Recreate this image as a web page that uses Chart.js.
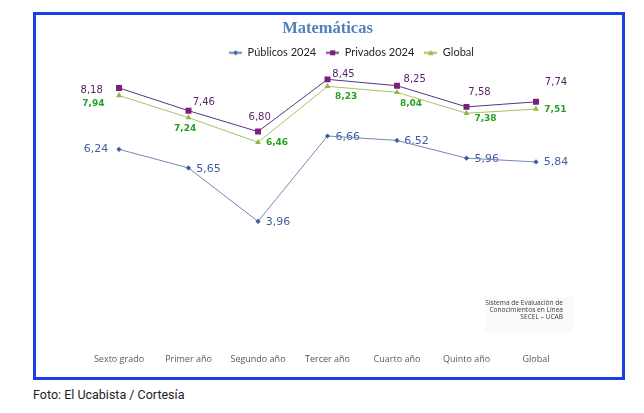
<!DOCTYPE html>
<html>
<head>
<meta charset="utf-8">
<script src="https://cdn.jsdelivr.net/npm/chart.js@4"></script>
<style>
  html, body { margin: 0; padding: 0; background: #ffffff; }
  body { width: 644px; height: 413px; position: relative; overflow: hidden; }
  #frame { position: absolute; left: 33px; top: 12px; width: 586px; height: 362px; border: 3px solid #1a3ee8; background: #fff; }
  #frame canvas { display: block; }
  #caption { position: absolute; left: 33px; top: 387px; font-family: Roboto, sans-serif; font-size: 12.5px; color: #222; white-space: nowrap; }
</style>
</head>
<body>
<div id="frame"><canvas id="c" width="586" height="362"></canvas></div>
<div id="caption">Foto: El Ucabista / Cortesía</div>
<script>
// ---- data ----
const categories = ['Sexto grado', 'Primer año', 'Segundo año', 'Tercer año', 'Cuarto año', 'Quinto año', 'Global'];
const publicos2024 = [6.24, 5.65, 3.96, 6.66, 6.52, 5.96, 5.84];
const privados2024 = [8.18, 7.46, 6.80, 8.45, 8.25, 7.58, 7.74];
const globalValues = [7.94, 7.24, 6.46, 8.23, 8.04, 7.38, 7.51];
const seriesNames = ['Públicos 2024', 'Privados 2024', 'Global'];
const chartTitle = 'Matemáticas';
const sourceLines = ['Sistema de Evaluación de', 'Conocimientos en Línea', 'SECEL – UCAB'];

// ---- label placement (style, not data): offsets of label centre from point ----
const labelOffsets = [
  [[-23, 0], [20, 1.4], [20, 1], [20.3, 1.6], [19.4, 1], [20.3, 1], [20, 0.3]],
  [[-27.3, 2.7], [15.3, -8.4], [1.7, -14.6], [16, -4.6], [17.7, -6.3], [13, -14.7], [20, -19]],
  [[-25.7, 8.3], [-3.4, 10.7], [19, 0.4], [18.7, 10.7], [14, 11.7], [19, 5.7], [19.3, 0.3]]
];
const labelStyles = [
  { font: '11px "DejaVu Sans"', color: '#3f5e9c' },
  { font: '10px "DejaVu Sans"', color: '#5b2169' },
  { font: 'bold 9px "DejaVu Sans"', color: '#26a026' }
];

function fmt(v) { return v.toFixed(2).replace('.', ','); }

function legendIcon(lineColor, pointColor, shape) {
  const cv = document.createElement('canvas');
  cv.width = 13; cv.height = 7;
  const g = cv.getContext('2d');
  g.strokeStyle = lineColor; g.lineWidth = 2;
  g.beginPath(); g.moveTo(0, 3.5); g.lineTo(13, 3.5); g.stroke();
  g.fillStyle = pointColor;
  g.beginPath();
  if (shape === 'diamond') { g.moveTo(6.5, 1); g.lineTo(9, 3.5); g.lineTo(6.5, 6); g.lineTo(4, 3.5); }
  else if (shape === 'square') { g.rect(4, 1, 5, 5); }
  else { g.moveTo(6.5, 0.8); g.lineTo(9.3, 5.8); g.lineTo(3.7, 5.8); }
  g.closePath(); g.fill();
  return cv;
}

const dataLabelPlugin = {
  id: 'dataLabels',
  beforeDatasetsDraw(chart) {
    const ctx = chart.ctx;
    ctx.save();
    ctx.textAlign = 'center';
    ctx.textBaseline = 'middle';
    chart.data.datasets.forEach((ds, di) => {
      const meta = chart.getDatasetMeta(di);
      ctx.font = labelStyles[di].font;
      ctx.fillStyle = labelStyles[di].color;
      meta.data.forEach((pt, i) => {
        const off = labelOffsets[di][i];
        ctx.fillText(fmt(ds.data[i]), pt.x + off[0], pt.y + off[1]);
      });
    });
    ctx.restore();
  },
  afterDraw(chart) {
    const ctx = chart.ctx;
    ctx.save();
    ctx.fillStyle = '#fafafa';
    ctx.fillRect(449, 282, 88, 35);
    ctx.font = '6.6px "Open Sans"';
    ctx.fillStyle = '#3a3a3a';
    ctx.textAlign = 'right';
    ctx.textBaseline = 'middle';
    sourceLines.forEach((s, i) => ctx.fillText(s, 527, 288.5 + i * 7));
    ctx.restore();
  }
};

const legendShift = {
  id: 'legendShift',
  afterLayout(chart) {
    if (chart.legend) { chart.legend.left += 24; chart.legend.right += 24; }
  }
};

const icons = [
  legendIcon('#6a87bb', '#3f5e9c', 'diamond'),
  legendIcon('#6b3b8a', '#7a1f7e', 'square'),
  legendIcon('#a4bf5c', '#93b640', 'triangle')
];

new Chart(document.getElementById('c'), {
  type: 'line',
  data: {
    labels: categories,
    datasets: [
      { label: seriesNames[0], data: publicos2024, borderColor: '#6f88b8', backgroundColor: '#3f5e9c',
        borderWidth: 1, pointStyle: 'rectRot', pointRadius: 2.6, pointBorderWidth: 0, pointBackgroundColor: '#3f5e9c' },
      { label: seriesNames[1], data: privados2024, borderColor: '#55357a', backgroundColor: '#7a1f7e',
        borderWidth: 1, pointStyle: 'rect', pointRadius: 4.2, pointBorderWidth: 0, pointBackgroundColor: '#7a1f7e' },
      { label: seriesNames[2], data: globalValues, borderColor: '#a8c262', backgroundColor: '#93b640',
        borderWidth: 1, pointStyle: 'triangle', pointRadius: 3.4, pointBorderWidth: 0, pointBackgroundColor: '#93b640' }
    ]
  },
  options: {
    responsive: false,
    animation: false,
    layout: { padding: { left: 48.25, right: 51.25, top: 0, bottom: 5.5 } },
    plugins: {
      title: {
        display: true, text: chartTitle, color: '#4f81bd',
        font: { family: '"Liberation Serif"', size: 16.5, weight: 'bold', lineHeight: 1 },
        padding: { top: 5.8, bottom: 0 }
      },
      legend: {
        display: true, position: 'top',
        labels: {
          font: { family: 'Lato', size: 11 }, color: '#262626', padding: 10,
          usePointStyle: true, pointStyleWidth: 13, boxHeight: 7,
          generateLabels: (chart) => chart.data.datasets.map((ds, i) => ({
            text: ds.label, pointStyle: icons[i], fillStyle: ds.borderColor, strokeStyle: ds.borderColor,
            lineWidth: 0, hidden: false, datasetIndex: i, fontColor: '#262626'
          }))
        }
      },
      tooltip: { enabled: false }
    },
    scales: {
      x: {
        offset: true,
        grid: { display: false, drawTicks: false },
        border: { display: false },
        ticks: { color: '#595959', font: { family: '"Open Sans"', size: 9 }, padding: 7 }
      },
      y: { display: false, min: 0, max: 8.8 }
    }
  },
  plugins: [dataLabelPlugin, legendShift]
});
</script>
</body>
</html>
